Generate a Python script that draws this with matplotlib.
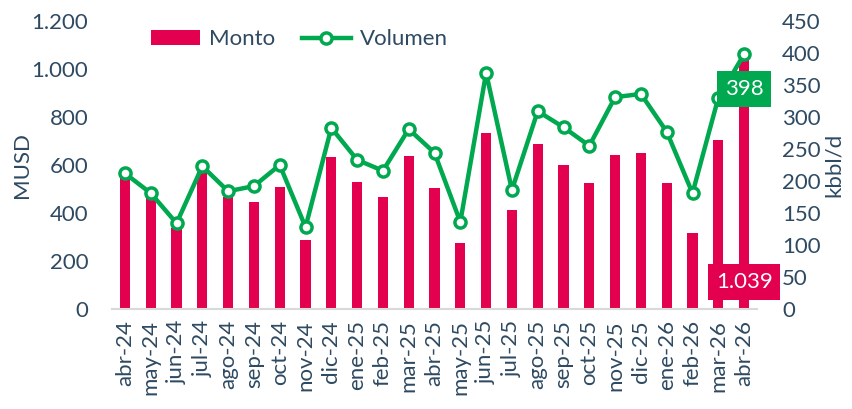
import numpy as np
import matplotlib
matplotlib.use("Agg")
import matplotlib.pyplot as plt

plt.rcParams['font.family'] = ['Lato', 'DejaVu Sans']

# data
meses = ['abr-24', 'may-24', 'jun-24', 'jul-24', 'ago-24', 'sep-24', 'oct-24',
         'nov-24', 'dic-24', 'ene-25', 'feb-25', 'mar-25', 'abr-25', 'may-25',
         'jun-25', 'jul-25', 'ago-25', 'sep-25', 'oct-25', 'nov-25', 'dic-25',
         'ene-26', 'feb-26', 'mar-26', 'abr-26']
monto = [550, 467, 337, 571, 467, 446, 508, 288, 633, 530, 467, 637,
         504, 275, 733, 413, 686, 600, 525, 642, 648, 525, 317, 706, 1039]
volumen = [212, 181, 134, 223, 184, 192, 225, 128, 283, 233, 216, 281,
           244, 136, 369, 186, 309, 284, 255, 331, 336, 277, 181, 330, 398]

ROJO = '#E2004F'
VERDE = '#00A84F'
TXT = '#2E4A62'

fig = plt.figure(figsize=(8.52, 4.09), dpi=100)
ax = fig.add_axes([0.1315, 0.2445, 0.757, 0.7042])
ax2 = ax.twinx()

x = np.arange(len(meses))
ax.bar(x, monto, width=0.4, color=ROJO, label='Monto', zorder=2)
ax2.plot(x, volumen, color=VERDE, lw=3.2, marker='o', ms=8, mfc='white',
         mec=VERDE, mew=2.5, label='Volumen', zorder=3)

ax.set_xlim(-0.5, len(meses) - 0.5)
ax.set_ylim(0, 1200)
ax2.set_ylim(0, 450)
ax.set_yticks(np.arange(0, 1201, 200))
ax.set_yticklabels(['0', '200', '400', '600', '800', '1.000', '1.200'])
ax2.set_yticks(np.arange(0, 451, 50))
ax.set_xticks(x)
ax.set_xticklabels(meses, rotation=90)

for a in (ax, ax2):
    for s in ('top', 'left', 'right', 'bottom'):
        a.spines[s].set_visible(False)
    a.tick_params(length=0, labelsize=16, colors=TXT)
ax.spines['bottom'].set_visible(True)
ax.spines['bottom'].set_color('#D9D9D9')
ax.spines['bottom'].set_linewidth(1.5)
ax.tick_params(axis='y', pad=17)
ax.tick_params(axis='x', pad=8)
ax2.tick_params(axis='y', pad=18)

ax.set_ylabel('MUSD', fontsize=16, color=TXT, labelpad=0)
ax2.set_ylabel('kbbl/d', fontsize=16, color=TXT, labelpad=2)

# labels on last point
ax2.annotate('398', xy=(x[-1], volumen[-1]), xytext=(0, -25),
             textcoords='offset points', ha='center', va='center',
             fontsize=16, color='white', zorder=5,
             bbox=dict(boxstyle='square,pad=0.35', fc=VERDE, ec='none'))
ax.annotate('1.039', xy=(x[-1], monto[-1]), xytext=(0, -160),
            textcoords='offset points', ha='center', va='center',
            fontsize=16, color='white', zorder=5,
            bbox=dict(boxstyle='square,pad=0.35', fc=ROJO, ec='none'))

h1, l1 = ax.get_legend_handles_labels()
h2, l2 = ax2.get_legend_handles_labels()
ax2.legend(h1 + h2, l1 + l2, loc='upper left', bbox_to_anchor=(0.03, 1.04),
           ncol=2, frameon=False, fontsize=16, labelcolor=TXT,
           handlelength=2.2, columnspacing=1.2, handletextpad=0.4)

fig.savefig('out.png', dpi=100)
